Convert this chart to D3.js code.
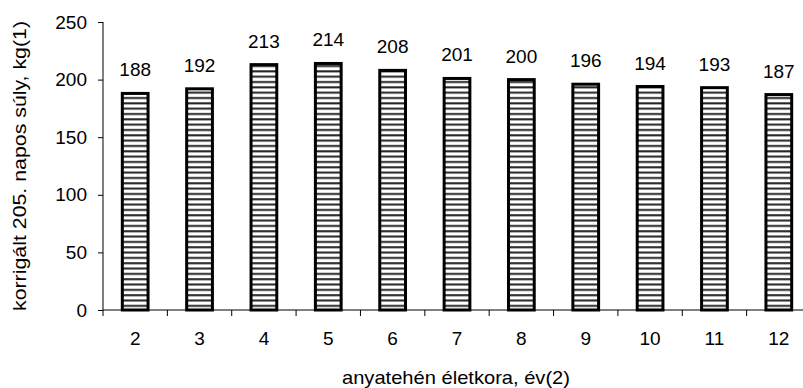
<!DOCTYPE html>
<html>
<head>
<meta charset="utf-8">
<script src="https://cdn.jsdelivr.net/npm/d3@7"></script>
<style>
html,body{margin:0;padding:0;background:#fff;}
svg{display:block;}
text{font-family:"Liberation Sans",Arial,sans-serif;fill:#000;}
</style>
</head>
<body>
<svg id="chart" width="803" height="388"></svg>
<script>
const categories = ["2","3","4","5","6","7","8","9","10","11","12"];
const values = [188,192,213,214,208,201,200,196,194,193,187];
const yTicks = [0,50,100,150,200,250];
const xTitle = "anyatehén életkora, év(2)";
const yTitle = "korrigált 205. napos súly, kg(1)";

const svg = d3.select("#chart");
const mLeft = 103, mRight = 811, mTop = 22, mBottom = 310;
const fs = "19px";

const x = d3.scaleBand().domain(categories).range([mLeft, mRight])
  .paddingInner(0.6).paddingOuter(0.3);
const y = d3.scaleLinear().domain([0,250]).range([mBottom, mTop]);

const defs = svg.append("defs");
const pat = defs.append("pattern").attr("id","stripes")
  .attr("patternUnits","userSpaceOnUse").attr("width",10).attr("height",5.33)
  .attr("y", mBottom);
pat.append("rect").attr("width",10).attr("height",5.33).attr("fill","#fff");
pat.append("line").attr("x1",0).attr("x2",10).attr("y1",1.2).attr("y2",1.2)
  .attr("stroke","#222").attr("stroke-width",2);

// axes lines
svg.append("line").attr("x1",mLeft).attr("x2",803).attr("y1",mBottom).attr("y2",mBottom)
  .attr("stroke","#000").attr("stroke-width",1);
svg.append("line").attr("x1",mLeft).attr("x2",mLeft).attr("y1",mTop).attr("y2",mBottom)
  .attr("stroke","#000").attr("stroke-width",1);

// y ticks
const yAxis = d3.axisLeft(y).tickValues(yTicks).tickSize(5).tickPadding(11);
const gy = svg.append("g").attr("transform",`translate(${mLeft},0)`).call(yAxis);
gy.select(".domain").remove();
gy.selectAll("text").style("font-size",fs).style("font-family","'Liberation Sans',Arial,sans-serif");

// x tick marks at band boundaries
const bounds = d3.range(categories.length+1).map(i => x.range()[0] + i*x.step());
svg.selectAll(".xb").data(bounds).enter().append("line")
  .attr("x1",d=>d).attr("x2",d=>d).attr("y1",mBottom).attr("y2",mBottom+6)
  .attr("stroke","#000").attr("stroke-width",1);

// x labels
const xAxis = d3.axisBottom(x).tickSize(0).tickPadding(22);
const gx = svg.append("g").attr("transform",`translate(0,${mBottom})`).call(xAxis);
gx.select(".domain").remove();
gx.selectAll("text").style("font-size",fs).style("font-family","'Liberation Sans',Arial,sans-serif");

// bars
svg.selectAll(".bar").data(values).enter().append("rect")
  .attr("x",(d,i)=>x(categories[i]))
  .attr("width",x.bandwidth())
  .attr("y",d=>y(d))
  .attr("height",d=>y(0)-y(d))
  .attr("fill","url(#stripes)")
  .attr("stroke","#000").attr("stroke-width",3);

// value labels
svg.selectAll(".vl").data(values).enter().append("text")
  .attr("x",(d,i)=>x(categories[i])+x.bandwidth()/2)
  .attr("y",d=>y(d)-17)
  .attr("text-anchor","middle")
  .style("font-size",fs)
  .text(d=>d);

// titles
svg.append("text").attr("x",(mLeft+mRight)/2 - 1).attr("y",384)
  .attr("text-anchor","middle").style("font-size",fs)
  .attr("textLength",228).attr("lengthAdjust","spacingAndGlyphs").text(xTitle);
svg.append("text").attr("transform",`translate(26,${(mTop+mBottom)/2}) rotate(-90)`)
  .attr("text-anchor","middle").style("font-size",fs)
  .attr("textLength",290).attr("lengthAdjust","spacingAndGlyphs").text(yTitle);
</script>
</body>
</html>
